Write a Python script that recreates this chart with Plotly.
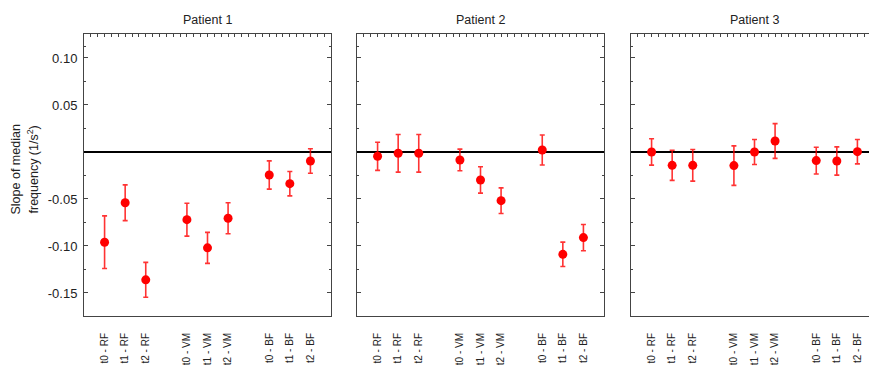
import plotly.graph_objects as go

# ---- data ----
labels = ["t0 - RF", "t1 - RF", "t2 - RF", "t0 - VM", "t1 - VM", "t2 - VM", "t0 - BF", "t1 - BF", "t2 - BF"]
positions = [0, 1, 2, 4, 5, 6, 8, 9, 10]
patients = ["Patient 1", "Patient 2", "Patient 3"]

p1_values = [-0.096, -0.054, -0.136, -0.072, -0.102, -0.0705, -0.0245, -0.0337, -0.0096]
p1_errors = [0.028, 0.019, 0.0185, 0.0175, 0.0165, 0.0165, 0.015, 0.013, 0.013]
p2_values = [-0.0046, -0.0014, -0.0014, -0.0085, -0.0298, -0.0518, 0.0021, -0.1089, -0.0911]
p2_errors = [0.015, 0.02, 0.02, 0.0115, 0.014, 0.0136, 0.016, 0.013, 0.014]
p3_values = [0.0, -0.0142, -0.0142, -0.0145, 0.0, 0.0117, -0.0092, -0.0096, 0.0003]
p3_errors = [0.014, 0.016, 0.0168, 0.021, 0.0133, 0.0185, 0.0142, 0.015, 0.013]

y_tickvals = [0.10, 0.05, -0.05, -0.10, -0.15]
y_ticktext = ["0.10", "0.05", "-0.05", "-0.10", "-0.15"]
y_title_lines = ["Slope of median", "frequency (1/s<sup>2</sup>)"]

# ---- layout geometry ----
W, H = 869, 367
M_T, M_B = 34, 51
PH = H - M_T - M_B
domains_px = [(84, 331), (357, 604), (631, 869)]
x_ranges = [[-1, 11], [-1, 11], [-1, 10.563]]
y_range = [-0.1745, 0.1255]

FONT = "Liberation Sans, Arial, sans-serif"
RED = "#ff0000"
FRAME = "#444444"

fig = go.Figure()
series = [(p1_values, p1_errors), (p2_values, p2_errors), (p3_values, p3_errors)]

for i, (vals, errs) in enumerate(series):
    n = i + 1
    xa = "x" if n == 1 else f"x{n}"
    ya = "y" if n == 1 else f"y{n}"
    fig.add_trace(go.Scatter(
        x=positions, y=vals, mode="markers",
        marker=dict(color=RED, size=9, line=dict(width=0)),
        error_y=dict(type="data", array=errs, visible=True,
                     color="rgba(255,0,0,0.8)", thickness=1.6, width=2.5),
        xaxis=xa, yaxis=ya, showlegend=False, hoverinfo="skip"))
    # dummy trace for top minor ticks axis
    fig.add_trace(go.Scatter(x=[None], y=[None], xaxis=f"x{n+3}", yaxis=ya,
                             showlegend=False, hoverinfo="skip"))

layout = dict(
    width=W, height=H,
    margin=dict(l=0, r=0, t=M_T, b=M_B, pad=0),
    paper_bgcolor="white", plot_bgcolor="white",
    font=dict(family=FONT, color="#222222"),
    annotations=[],
)

for i in range(3):
    n = i + 1
    d0, d1 = domains_px[i]
    dom = [d0 / W, min(d1 / W, 1.0)]
    xkey = "xaxis" if n == 1 else f"xaxis{n}"
    ykey = "yaxis" if n == 1 else f"yaxis{n}"
    ya_ref = "y" if n == 1 else f"y{n}"
    layout[xkey] = dict(
        domain=dom, range=x_ranges[i], anchor=ya_ref,
        tickmode="array", tickvals=positions, ticktext=labels,
        tickangle=-90, tickfont=dict(size=10, color="#222222"),
        ticks="", ticklabelstandoff=12,
        showline=True, linecolor=FRAME, linewidth=1,
        mirror=True, showgrid=False, zeroline=False,
    )
    layout[f"xaxis{n+3}"] = dict(
        overlaying="x" if n == 1 else f"x{n}", side="top", anchor=ya_ref,
        range=x_ranges[i], tick0=-1, dtick=1 / 3, ticks="inside", ticklen=3,
        tickcolor=FRAME, tickwidth=1, showticklabels=False,
        showline=False, showgrid=False, zeroline=False,
    )
    layout[ykey] = dict(
        domain=[0, 1], range=y_range, anchor="x" if n == 1 else f"x{n}",
        tickmode="array", tickvals=y_tickvals, ticktext=y_ticktext,
        showticklabels=(n == 1), tickfont=dict(size=13, color="#222222"),
        ticks="inside", ticklen=4, tickcolor=FRAME, tickwidth=1,
        minor=dict(tickmode="array", tickvals=[0.1125, 0.075, 0.025, -0.025, -0.075, -0.125],
                   ticks="inside", ticklen=2, tickcolor=FRAME, tickwidth=1),
        ticklabelstandoff=3,
        showline=True, linecolor=FRAME, linewidth=1,
        mirror="ticks" if n != 3 else False, showgrid=False,
        zeroline=True, zerolinecolor="#000000", zerolinewidth=1.5,
    )
    cx = ((d0 + d1) / 2 if n != 3 else (d0 + d0 + 247) / 2) / W
    layout["annotations"].append(dict(
        text=patients[i], x=cx, y=(H - M_B - 20) / PH, xref="paper", yref="paper",
        xanchor="center", yanchor="middle", showarrow=False,
        font=dict(size=12.5, color="#222222", family=FONT)))

for txt, xc in zip(y_title_lines, [15.5, 32.5]):
    layout["annotations"].append(dict(
        text=txt, textangle=-90,
        x=xc / W, y=(H - M_B - 170) / PH, xref="paper", yref="paper",
        xanchor="center", yanchor="middle", showarrow=False,
        font=dict(size=12.5, color="#222222", family=FONT)))

fig.update_layout(**layout)
fig.write_html("out.html")
